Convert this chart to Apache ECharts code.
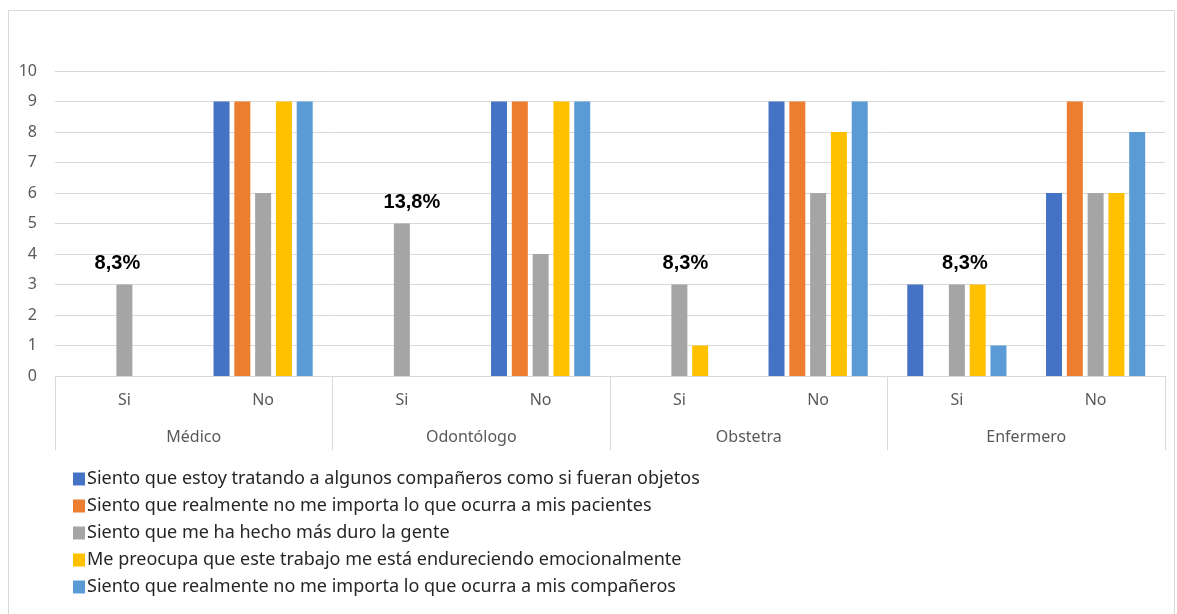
<!DOCTYPE html>
<html>
<head>
<meta charset="utf-8">
<script src="https://cdn.jsdelivr.net/npm/echarts@6/dist/echarts.min.js"></script>
<style>
  html, body { margin: 0; padding: 0; background: #fff; }
  #main { width: 1177px; height: 614px; }
</style>
</head>
<body>
<div id="main"></div>
<script>
// categorías (Si/No por profesión)
var respuestas = ['Si', 'No', 'Si', 'No', 'Si', 'No', 'Si', 'No'];
var profesiones = ['Médico', 'Odontólogo', 'Obstetra', 'Enfermero'];
var yTicks = [0, 1, 2, 3, 4, 5, 6, 7, 8, 9, 10];

var serieNombres = [
  'Siento que estoy tratando a algunos compañeros como si fueran objetos',
  'Siento que realmente no me importa lo que ocurra a mis pacientes',
  'Siento que me ha hecho más duro la gente',
  'Me preocupa que este trabajo me está endureciendo emocionalmente',
  'Siento que realmente no me importa lo que ocurra a mis compañeros'
];
var colores = ['#4472C4', '#ED7D31', '#A5A5A5', '#FFC000', '#5B9BD5'];

var objetos     = [0, 9, 0, 9, 0, 9, 3, 6];
var pacientes   = [0, 9, 0, 9, 0, 9, 0, 9];
var duro        = [3, 6, 5, 4, 3, 6, 3, 6];
var endurecido  = [0, 9, 0, 9, 1, 8, 3, 6];
var companeros  = [0, 9, 0, 9, 0, 9, 1, 8];

// porcentajes anotados sobre "Si"
var porcentajes = ['8,3%', '', '13,8%', '', '8,3%', '', '8,3%', ''];
var pctOffsetX = [-7, 0, 10, 0, 6, 0, 8, 0];

var valores = [objetos, pacientes, duro, endurecido, companeros];

var series = valores.map(function (vals, i) {
  var data = vals.map(function (v, j) {
    var item = { value: v };
    if (i === 2 && porcentajes[j]) {
      item.label = {
        show: true,
        position: 'top',
        distance: 11,
        offset: [pctOffsetX[j], 0],
        formatter: porcentajes[j],
        fontFamily: '"Liberation Sans Narrow", "Liberation Sans", Arial',
        fontWeight: 'bold',
        fontSize: 20,
        color: '#000'
      };
    }
    return item;
  });
  return {
    name: serieNombres[i],
    type: 'bar',
    xAxisIndex: 0,
    barWidth: 16,
    barGap: '30%',
    itemStyle: { color: colores[i] },
    data: data
  };
});

var myChart = echarts.init(document.getElementById('main'));

var option = {
  animation: false,
  textStyle: { fontFamily: '"Noto Sans", sans-serif' },
  graphic: [{
    type: 'rect',
    shape: { x: 8.5, y: 10.5, width: 1166, height: 620 },
    style: { fill: 'none', stroke: '#d9d9d9', lineWidth: 1 },
    silent: true
  }],
  grid: { left: 55, right: 12, top: 71, bottom: 238 },
  legend: {
    orient: 'vertical',
    left: 68,
    top: 465,
    itemWidth: 12,
    itemHeight: 13,
    itemGap: 9,
    icon: 'rect',
    textStyle: { fontSize: 18, lineHeight: 18, color: '#262626', padding: [0, 0, 0, -3] },
    data: serieNombres
  },
  xAxis: [{
    type: 'category',
    data: respuestas,
    axisLine: { lineStyle: { color: '#d9d9d9' } },
    axisTick: { show: false },
    axisLabel: { color: '#595959', fontSize: 16, margin: 16 }
  }, {
    type: 'category',
    data: profesiones,
    position: 'bottom',
    axisLine: { show: false },
    axisTick: { show: true, length: 74, lineStyle: { color: '#d9d9d9' } },
    axisLabel: { color: '#595959', fontSize: 16, margin: 53 },
    splitLine: { show: false }
  }],
  yAxis: {
    type: 'value',
    min: yTicks[0],
    max: yTicks[yTicks.length - 1],
    interval: 1,
    axisLine: { show: false },
    axisTick: { show: false },
    axisLabel: { color: '#595959', fontSize: 16, margin: 18 },
    splitLine: { lineStyle: { color: '#d9d9d9' } }
  },
  series: series
};

myChart.setOption(option);
</script>
</body>
</html>
